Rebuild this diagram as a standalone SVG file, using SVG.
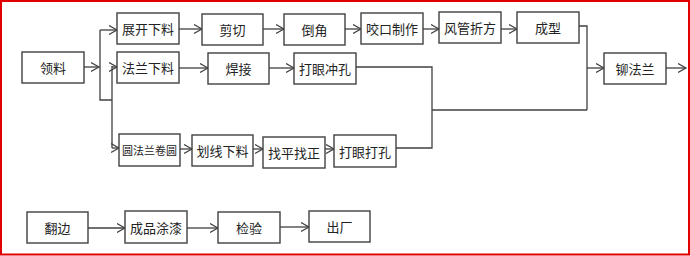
<svg xmlns="http://www.w3.org/2000/svg" width="690" height="256" viewBox="0 0 690 256">
<style>
.box{fill:#fff;stroke:#404040;stroke-width:1.4}
.t{font-family:"Noto Sans CJK SC","Noto Sans",sans-serif;font-size:13px;fill:#222;text-anchor:middle;dominant-baseline:central}
.s{font-size:11px}
.c{fill:none;stroke:#404040;stroke-width:1.3}
</style>
<defs>
<marker id="a" markerUnits="userSpaceOnUse" markerWidth="10" markerHeight="11" refX="8.5" refY="5" orient="auto">
<path d="M0.5,0.5 L8.5,5 L0.5,9.5" fill="none" stroke="#404040" stroke-width="1.2"/>
</marker>
</defs>
<rect x="0" y="0" width="690" height="256" fill="#fff"/>
<rect x="1" y="1" width="688" height="253.5" fill="none" stroke="#e00000" stroke-width="2"/>
<g id="connectors">
<path class="c" d="M84,67 H99" marker-end="url(#a)"/>
<path class="c" d="M100,30 V100 H112"/>
<path class="c" d="M100,30 H117" marker-end="url(#a)"/>
<path class="c" d="M112,148 V66"/>
<path class="c" d="M112,67 H117" marker-end="url(#a)"/>
<path class="c" d="M112,148 H119" marker-end="url(#a)"/>
<path class="c" d="M179,29 H202" marker-end="url(#a)"/>
<path class="c" d="M263,29 H284" marker-end="url(#a)"/>
<path class="c" d="M345,29 H361" marker-end="url(#a)"/>
<path class="c" d="M423,29 H439" marker-end="url(#a)"/>
<path class="c" d="M501,29 H517" marker-end="url(#a)"/>
<path class="c" d="M179,68 H208" marker-end="url(#a)"/>
<path class="c" d="M269,68 H294" marker-end="url(#a)"/>
<path class="c" d="M356,67 H432 V148 H396"/>
<path class="c" d="M432,110 H587"/>
<path class="c" d="M579,26 H587 V110"/>
<path class="c" d="M587,68 H604" marker-end="url(#a)"/>
<path class="c" d="M666,68 H686" marker-end="url(#a)"/>
<path class="c" d="M180,149 H192" marker-end="url(#a)"/>
<path class="c" d="M253,149 H263" marker-end="url(#a)"/>
<path class="c" d="M325,149 H334" marker-end="url(#a)"/>
<path class="c" d="M88,228 H125" marker-end="url(#a)"/>
<path class="c" d="M187,228 H218" marker-end="url(#a)"/>
<path class="c" d="M280,227 H309" marker-end="url(#a)"/>
</g>
<g id="n1"><rect class="box" x="22" y="52" width="62" height="31"/><text class="t" x="53" y="67.5">领料</text></g>
<g id="n2"><rect class="box" x="117" y="13" width="62" height="31"/><text class="t" x="148" y="28.5">展开下料</text></g>
<g id="n3"><rect class="box" x="202" y="14" width="61" height="31"/><text class="t" x="232.5" y="29.5">剪切</text></g>
<g id="n4"><rect class="box" x="284" y="14" width="61" height="31"/><text class="t" x="314.5" y="29.5">倒角</text></g>
<g id="n5"><rect class="box" x="361" y="13" width="62" height="31"/><text class="t" x="392" y="28.5">咬口制作</text></g>
<g id="n6"><rect class="box" x="439" y="12" width="62" height="31"/><text class="t" x="470" y="27.5">风管折方</text></g>
<g id="n7"><rect class="box" x="517" y="12" width="62" height="31"/><text class="t" x="548" y="27.5">成型</text></g>
<g id="n8"><rect class="box" x="117" y="52" width="62" height="31"/><text class="t" x="148" y="67.5">法兰下料</text></g>
<g id="n9"><rect class="box" x="208" y="53" width="61" height="31"/><text class="t" x="238.5" y="68.5">焊接</text></g>
<g id="n10"><rect class="box" x="294" y="53" width="62" height="31"/><text class="t" x="325" y="68.5">打眼冲孔</text></g>
<g id="n11"><rect class="box" x="604" y="53" width="62" height="31"/><text class="t" x="635" y="68.5">铆法兰</text></g>
<g id="n12"><rect class="box" x="119" y="134" width="61" height="32"/><text class="t s" x="149.5" y="150">圆法兰卷圆</text></g>
<g id="n13"><rect class="box" x="192" y="135" width="61" height="31"/><text class="t" x="222.5" y="150.5">划线下料</text></g>
<g id="n14"><rect class="box" x="263" y="137" width="62" height="31"/><text class="t" x="294" y="152.5">找平找正</text></g>
<g id="n15"><rect class="box" x="334" y="135" width="62" height="32"/><text class="t" x="365" y="151">打眼打孔</text></g>
<g id="n16"><rect class="box" x="27" y="212" width="61" height="31"/><text class="t" x="57.5" y="227.5">翻边</text></g>
<g id="n17"><rect class="box" x="125" y="211" width="62" height="32"/><text class="t" x="156" y="227">成品涂漆</text></g>
<g id="n18"><rect class="box" x="218" y="212" width="62" height="31"/><text class="t" x="249" y="227.5">检验</text></g>
<g id="n19"><rect class="box" x="309" y="211" width="61" height="31"/><text class="t" x="339.5" y="226.5">出厂</text></g>
</svg>
